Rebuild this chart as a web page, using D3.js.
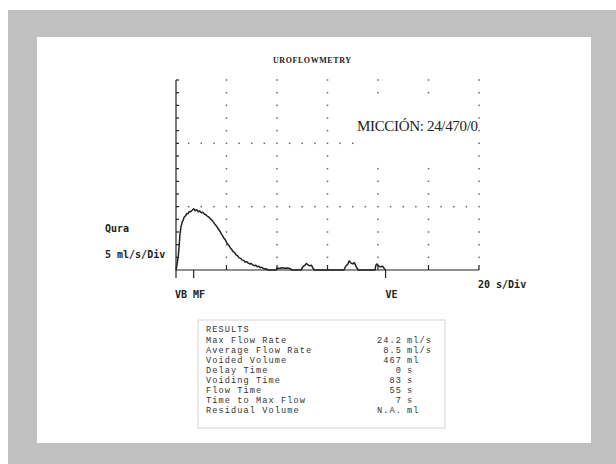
<!DOCTYPE html>
<html>
<head>
<meta charset="utf-8">
<script src="https://cdn.jsdelivr.net/npm/d3@7"></script>
<style>
  body { margin: 0; background: #fff; }
  svg { display: block; }
</style>
</head>
<body>
<svg id="chart"></svg>
<script>
const width = 616;
const height = 464;

// flow curve (seconds, ml/s)
const timeSec = [
  0, 0.3, 0.6, 0.9, 1.2, 1.6, 2.0, 2.4, 2.8, 3.3, 3.8, 4.3, 4.8, 5.3, 5.8, 6.3, 7.0,
  7.6, 8.2, 8.8, 9.4, 10.0, 10.6, 11.2, 11.8, 12.4, 13.0, 13.6, 14.2, 14.8, 15.4,
  16.0, 16.6, 17.2, 17.8, 18.4, 19.0, 19.6, 20.2, 20.8, 21.4, 22.0, 22.6, 23.2,
  23.8, 24.4, 25.0, 25.6, 26.2, 26.8, 27.4, 28.0, 28.6, 29.2, 29.8, 30.4, 31.0,
  31.6, 32.2, 32.8, 33.4, 34.0, 34.6, 35.2, 35.8, 36.4,
  39.6, 40, 41, 42, 43, 44, 45, 46,
  49.5, 50.2, 51, 51.7, 52.3, 53, 53.6, 54.2, 54.8,
  66.5, 67.2, 68, 68.6, 69.2, 70, 70.6, 71.4, 72.2,
  78.8, 79.2, 79.6, 80.2, 81, 81.8, 82.5, 83
];
const flowRate = [
  0, 1.5, 3.5, 5.5, 9, 14.5, 17, 18.8, 19.6, 21, 21.4, 22.3, 22.2, 23.1, 23.0, 23.5, 24.2,
  23.4, 23.8, 23.0, 23.3, 22.6, 22.8, 22.1, 21.8, 21.3, 20.9, 20.2, 19.7, 18.9, 18.1,
  17.4, 16.4, 15.6, 14.5, 13.6, 12.5, 11.8, 10.6, 9.9, 8.9, 8.2, 7.3, 6.9,
  6.0, 5.6, 4.8, 4.6, 3.9, 3.8, 3.1, 3.3, 2.7, 2.4, 2.6, 2.0, 1.7,
  1.9, 1.3, 1.5, 0.9, 1.1, 0.6, 0.4, 0.5, 0,
  0, 0.8, 0.6, 0.9, 0.7, 0.8, 0.6, 0,
  0, 1.2, 1.8, 2.6, 2.0, 1.6, 1.9, 0.8, 0,
  0, 1.5, 2.2, 3.6, 2.8, 2.4, 2.9, 1.2, 0,
  0, 2.0, 2.4, 1.6, 1.3, 1.5, 0.6, 0
];

const xDivs = [0, 20, 40, 60, 80, 100, 120];   // 20 s/Div
const yTicks = d3.range(0, 80, 5);              // 5 ml/s/Div
const gridRows = [25, 50];
const markers = [
  { t: 7, label: "" },
  { t: 83, label: "VE" }
];

const resultLabels = [
  "Max Flow Rate", "Average Flow Rate", "Voided Volume", "Delay Time",
  "Voiding Time", "Flow Time", "Time to Max Flow", "Residual Volume"
];
const resultValues = ["24.2", "8.5", "467", "0", "83", "55", "7", "N.A."];
const resultUnits = ["ml/s", "ml/s", "ml", "s", "s", "s", "s", "ml"];

const svg = d3.select("#chart")
  .attr("width", width)
  .attr("height", height);

// frame
svg.append("rect").attr("x", 8).attr("y", 10).attr("width", 608).attr("height", 454).attr("fill", "#c0c0c0");
svg.append("rect").attr("x", 37).attr("y", 37).attr("width", 554).attr("height", 406).attr("fill", "#fff");

const x = d3.scaleLinear().domain([0, 120]).range([176, 479]);
const y = d3.scaleLinear().domain([0, 75]).range([270, 80]);

const ink = "#222";

/* ---------------------------
dotted grid
--------------------------- */
const dots = [];
xDivs.slice(1).forEach(t => {
  yTicks.slice(1).forEach(q => dots.push([t, q]));
});
gridRows.forEach(q => {
  d3.range(5, 120, 5).forEach(t => {
    if (t % 20 !== 0) dots.push([t, q]);
  });
});

svg.append("g").selectAll("rect")
  .data(dots)
  .enter()
  .append("rect")
  .attr("x", d => x(d[0]) - 0.75)
  .attr("y", d => y(d[1]) - 0.75)
  .attr("width", 1.5)
  .attr("height", 1.5)
  .attr("fill", "#666");

// label patch over the grid
svg.append("rect").attr("x", 358).attr("y", 99).attr("width", 117).attr("height", 63).attr("fill", "#fff");
svg.append("text")
  .attr("x", 357).attr("y", 131)
  .attr("font-family", "Liberation Serif, Times New Roman, serif")
  .attr("font-size", 15)
  .attr("textLength", 121)
  .attr("fill", "#222")
  .text("MICCIÓN: 24/470/0");

/* ---------------------------
axes
--------------------------- */
const axisG = svg.append("g").attr("stroke", ink).attr("stroke-width", 1.2);

axisG.append("line")
  .attr("x1", x(0)).attr("x2", x(0))
  .attr("y1", y(75)).attr("y2", y(0) + 8);
axisG.append("line")
  .attr("x1", x(0)).attr("x2", x(120))
  .attr("y1", y(0)).attr("y2", y(0));

axisG.selectAll(".ytick")
  .data(yTicks.slice(1))
  .enter()
  .append("line")
  .attr("x1", x(0)).attr("x2", x(0) + 3)
  .attr("y1", d => y(d)).attr("y2", d => y(d));

axisG.selectAll(".xtick")
  .data(xDivs.slice(1))
  .enter()
  .append("line")
  .attr("x1", d => x(d)).attr("x2", d => x(d))
  .attr("y1", y(0) - 5).attr("y2", y(0));

axisG.selectAll(".marker")
  .data(markers)
  .enter()
  .append("line")
  .attr("x1", d => x(d.t)).attr("x2", d => x(d.t))
  .attr("y1", y(0)).attr("y2", y(0) + 8);

/* ---------------------------
flow curve
--------------------------- */
const line = d3.line()
  .x((d, i) => x(timeSec[i]))
  .y(d => y(d));

svg.append("path")
  .datum(flowRate)
  .attr("d", line)
  .attr("fill", "none")
  .attr("stroke", ink)
  .attr("stroke-width", 1.5)
  .attr("stroke-linejoin", "round");

/* ---------------------------
labels
--------------------------- */
const mono = "DejaVu Sans Mono, monospace";

function label(tx, ty, str) {
  svg.append("text")
    .attr("x", tx).attr("y", ty)
    .attr("font-family", mono)
    .attr("font-weight", "bold")
    .attr("font-size", 10)
    .attr("fill", ink)
    .text(str);
}

label(105, 232, "Qura");
label(105, 258, "5 ml/s/Div");
label(175, 298, "VB MF");
label(x(83), 298, "VE");
label(478, 288, "20 s/Div");

svg.append("text")
  .attr("x", 273).attr("y", 63)
  .attr("font-family", "Liberation Serif, serif")
  .attr("font-weight", "bold")
  .attr("font-size", 8)
  .attr("textLength", 78)
  .attr("fill", ink)
  .text("UROFLOWMETRY");

/* ---------------------------
results box
--------------------------- */
const box = svg.append("g");
box.append("rect")
  .attr("x", 198).attr("y", 320)
  .attr("width", 247).attr("height", 108)
  .attr("fill", "#fff")
  .attr("stroke", "#d4d4d4")
  .attr("stroke-width", 1);

const courier = "Liberation Mono, Courier New, monospace";
const fs = 8.6;
const ls = 1.1;
const rowY = i => 343 + i * 10.05;

function resultText(sel) {
  return sel
    .attr("font-family", courier)
    .attr("font-size", fs)
    .attr("letter-spacing", ls)
    .attr("fill", "#333");
}

resultText(box.append("text"))
  .attr("x", 206).attr("y", 332)
  .text("RESULTS");

resultText(box.selectAll(".rl")
  .data(resultLabels)
  .enter()
  .append("text"))
  .attr("x", 206).attr("y", (d, i) => rowY(i))
  .text(d => d);

resultText(box.selectAll(".rv")
  .data(resultValues)
  .enter()
  .append("text"))
  .attr("x", 402).attr("y", (d, i) => rowY(i))
  .attr("text-anchor", "end")
  .text(d => d);

resultText(box.selectAll(".ru")
  .data(resultUnits)
  .enter()
  .append("text"))
  .attr("x", 407).attr("y", (d, i) => rowY(i))
  .text(d => d);
</script>
</body>
</html>
